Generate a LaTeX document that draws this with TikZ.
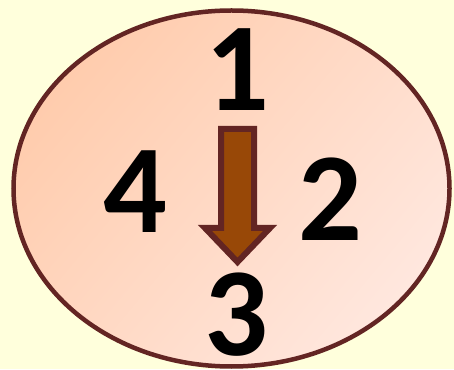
\documentclass[tikz,border=0pt]{standalone}
\usepackage{fontspec}
\setmainfont{Carlito}
\usepackage{tikz}

\definecolor{paper}{HTML}{FFFFDC}
\definecolor{rim}{HTML}{632523}
\definecolor{peachdark}{HTML}{FFCCAD}
\definecolor{peachlight}{HTML}{FFE7DE}
\definecolor{arrowfill}{HTML}{984807}

\tikzset{
  digit/.style={inner sep=0pt, font=\fontsize{126}{126}\selectfont\bfseries}
}

\begin{document}
\begin{tikzpicture}[x=1pt,y=1pt]
  \fill[paper] (0,0) rectangle (454,369);
  \useasboundingbox (0,0) rectangle (454,369);

  % the plate
  \path[top color=peachdark, bottom color=peachlight, shading angle=50]
    (231.5,180.5) ellipse [x radius=218, y radius=178];
  \draw[draw=rim, line width=4.5pt] (231.5,180.5) ellipse [x radius=218, y radius=178];

  % the digits
  \node[digit] (one)   at (237,299) {1};
  \node[digit] (two)   at (330,170) {2};
  \node[digit] (three) at (236,54)  {3};
  \node[digit] (four)  at (135,177) {4};

  % the arrow
  \draw[draw=rim, fill=arrowfill, line width=6pt, line join=miter]
    (221,240) -- (254,240) -- (254,141) -- (270,141) -- (237.5,107)
    -- (205,141) -- (221,141) -- cycle;
\end{tikzpicture}
\end{document}
